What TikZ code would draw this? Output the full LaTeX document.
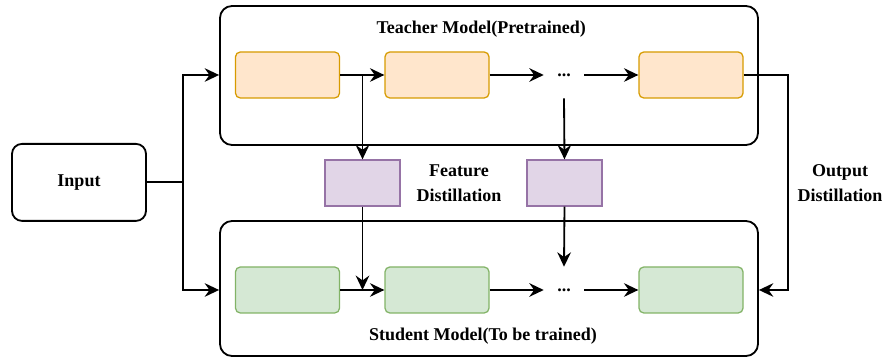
\documentclass[tikz,border=0pt]{standalone}
\usepackage{fontspec}
\setmainfont{Liberation Serif}
\usepackage{tikz}
\usetikzlibrary{arrows.meta,positioning}
\definecolor{teachfill}{HTML}{FFE6CC}
\definecolor{teachline}{HTML}{D79B00}
\definecolor{studfill}{HTML}{D5E8D4}
\definecolor{studline}{HTML}{82B366}
\definecolor{featfill}{HTML}{E1D5E7}
\definecolor{featline}{HTML}{9673A6}

\tikzset{
  modelbox/.style={draw, line width=1.3pt, rounded corners=0.3cm, minimum width=13.45cm, inner sep=0},
  layerbox/.style={draw, line width=0.9pt, rounded corners=0.12cm, minimum width=2.6cm, minimum height=1.15cm, inner sep=0},
  teachbox/.style={layerbox, fill=teachfill, draw=teachline},
  studbox/.style={layerbox, fill=studfill, draw=studline},
  featbox/.style={draw=featline, fill=featfill, line width=0.9pt, minimum width=1.875cm, minimum height=1.15cm, inner sep=0},
  dotsbox/.style={minimum width=1cm, minimum height=1.15cm, inner sep=0},
  arr/.style={-{Stealth[length=3.6mm,width=3.4mm,inset=1.2mm]}, line width=1.3pt},
  lbl/.style={align=center}
}

\begin{document}
\begin{tikzpicture}[font=\fontsize{12.8}{17.5}\selectfont\bfseries]
\useasboundingbox (0,0) rectangle (22.125,8.95);

% Model frames
\node[modelbox, minimum height=3.475cm] (teacher) at (12.225,7.0625) {};
\node[modelbox, minimum height=3.375cm] (student) at (12.225,1.7375) {};
\node (teachtitle) at (12.03,8.225) {Teacher Model(Pretrained)};
\node (studtitle) at (12.075,0.55) {Student Model(To be trained)};

% Input
\node[draw, line width=1.3pt, rounded corners=0.25cm, minimum width=3.35cm, minimum height=1.925cm] (input) at (1.975,4.39) {Input};
\coordinate (split) at (4.575,4.39);

% Teacher layers
\node[teachbox] (t1) at (7.1875,7.075) {};
\node[teachbox] (t2) at (10.925,7.075) {};
\node[dotsbox] (tdots) at (14.1,7.075) {...};
\node[teachbox] (t3) at (17.275,7.075) {};

% Student layers
\node[studbox] (s1) at (7.1875,1.7) {};
\node[studbox] (s2) at (10.925,1.7) {};
\node[dotsbox] (sdots) at (14.1,1.7) {...};
\node[studbox] (s3) at (17.275,1.7) {};

% Feature distillation
\node[featbox] (f1) at (9.0625,4.375) {};
\node[featbox] (f2) at (14.1125,4.375) {};
\node[lbl] (featlbl) at (11.475,4.375) {Feature\\Distillation};

% Output distillation
\coordinate (outc) at (19.7,7.075);
\node[lbl] (outlbl) at (21.0,4.375) {Output\\Distillation};

% Connectors
\draw[line width=1.3pt] (input.east) -- (split);
\draw[arr] (split) |- (teacher.west |- t1.west);
\draw[arr] (split) |- (student.west |- s1.west);
\draw[arr] (t1) -- (t2);
\draw[arr] (t2) -- (tdots);
\draw[arr] (tdots) -- (t3);
\draw[arr] (s1) -- (s2);
\draw[arr] (s2) -- (sdots);
\draw[arr] (sdots) -- (s3);
\draw[arr] (f1 |- t1.east) -- (f1.north);
\draw[arr] (f1.south) -- (f1 |- s1.east);
\draw[arr] (tdots.south) -- (f2.north);
\draw[arr] (f2.south) -- (sdots.north);
\draw[arr] (t3.east) -- (outc) |- (student.east |- s3.east);
\end{tikzpicture}
\end{document}
